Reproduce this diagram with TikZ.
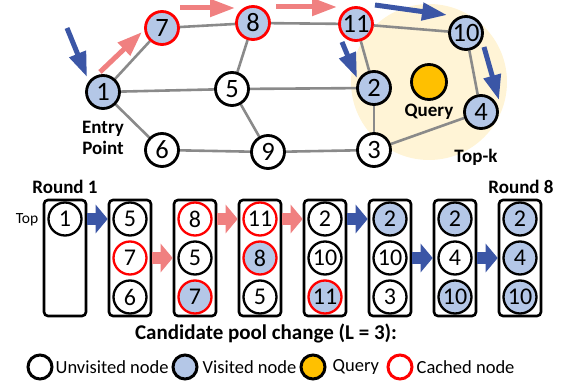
\documentclass[tikz,border=0pt]{standalone}
\usepackage{fontspec}
\setmainfont{Carlito}
\usetikzlibrary{arrows.meta}

\definecolor{visblue}{HTML}{B4C7E7}
\definecolor{cachered}{HTML}{FF0000}
\definecolor{qyellow}{HTML}{FFC000}
\definecolor{topkbg}{HTML}{FFF4D6}
\definecolor{edgegray}{HTML}{8A8A8A}
\definecolor{arrblue}{HTML}{3B56A6}
\definecolor{arrpink}{HTML}{F08080}

\pgfdeclarelayer{bg}
\pgfdeclarelayer{edges}
\pgfsetlayers{bg,edges,main}

\tikzset{
  gn/.style={circle, draw=black, fill=white, line width=2.8pt, minimum size=33pt,
    inner sep=0pt, font=\fontsize{26.5}{26.5}\selectfont},
  pn/.style={circle, draw=black, fill=white, line width=2.3pt, minimum size=33pt,
    inner sep=0pt, font=\fontsize{24}{24}\selectfont},
  vis/.style={fill=visblue},
  cache/.style={draw=cachered},
  edge/.style={draw=edgegray, line width=2.6pt},
  barrow/.style={draw=arrblue, line width=5pt, -{Triangle[length=25pt,width=17pt]}},
  parrow/.style={draw=arrpink, line width=5pt, -{Triangle[length=25pt,width=17pt]}},
  bblock/.style={draw=arrblue, line width=12pt, -{Triangle[length=12pt,width=28pt]}},
  pblock/.style={draw=arrpink, line width=12pt, -{Triangle[length=12pt,width=28pt]}},
  pbox/.style={draw=black, line width=2.6pt, rounded corners=4pt, minimum width=42pt,
    minimum height=116pt, inner sep=0pt},
  blabel/.style={font=\fontsize{19}{21}\selectfont\bfseries, align=center, inner sep=0pt},
  lgc/.style={circle, draw=black, fill=white, line width=3pt, minimum size=24pt, inner sep=0pt},
  lgtxt/.style={font=\fontsize{18.5}{18.5}\selectfont, inner sep=0pt, anchor=west},
}

\begin{document}
\begin{tikzpicture}[x=1pt, y=-1pt]
\useasboundingbox (0,0) rectangle (566,385);

% ---------- search graph ----------
\begin{pgfonlayer}{bg}
  \fill[topkbg] (429,82) circle (78pt);
\end{pgfonlayer}

\node[gn,vis] (n1) at (103,92) {1};
\node[gn,vis,cache] (n7) at (162,28) {7};
\node[gn,vis,cache] (n8) at (253,23) {8};
\node[gn,vis,cache] (n11) at (356,24) {11};
\node[gn,vis] (n10) at (466,33) {10};
\node[gn,vis] (n2) at (374,88) {2};
\node[gn,vis] (n4) at (481,112) {4};
\node[gn] (n5) at (232,89) {5};
\node[gn] (n6) at (162,150) {6};
\node[gn] (n9) at (268,152) {9};
\node[gn] (n3) at (374,150) {3};
\node[gn, fill=qyellow, minimum size=35pt] (q) at (429,82) {};

\begin{pgfonlayer}{edges}
  \foreach \a/\b in {n1/n7, n7/n8, n8/n11, n11/n10, n11/n2, n10/n4, n1/n5, n5/n2,
                     n8/n5, n5/n9, n1/n6, n6/n9, n9/n3, n2/n3, n3/n4}
    \draw[edge] (\a) -- (\b);
\end{pgfonlayer}

\node[blabel] (entry) at (103,138) {Entry\\Point};
\node[blabel] (qlbl) at (429,112) {Query};
\node[blabel] (topk) at (476,157) {Top-k};

% traversal arrows
\coordinate (s1) at (67,28);   \coordinate (e1) at (87,77);
\coordinate (s2) at (100,72);  \coordinate (e2) at (142,32);
\coordinate (s3) at (180,8);   \coordinate (e3) at (235,8);
\coordinate (s4) at (276,7);   \coordinate (e4) at (337,7);
\coordinate (s5) at (375,5);   \coordinate (e5) at (447,15);
\coordinate (s6) at (342,42);  \coordinate (e6) at (357,78);
\coordinate (s7) at (484,47);  \coordinate (e7) at (499,100);
\draw[barrow] (s1) -- (e1);
\draw[parrow] (s2) -- (e2);
\draw[parrow] (s3) -- (e3);
\draw[parrow] (s4) -- (e4);
\draw[barrow] (s5) -- (e5);
\draw[barrow] (s6) -- (e6);
\draw[barrow] (s7) -- (e7);

% ---------- candidate pool ----------
\coordinate (r1) at (0,219);
\coordinate (r2) at (0,258);
\coordinate (r3) at (0,297);

\node[pbox] (b1) at (65,258) {};
\node[pbox] (b2) at (130,258) {};
\node[pbox] (b3) at (195,258) {};
\node[pbox] (b4) at (260,258) {};
\node[pbox] (b5) at (325,258) {};
\node[pbox] (b6) at (390,258) {};
\node[pbox] (b7) at (455,258) {};
\node[pbox] (b8) at (520,258) {};

\node[pn] (c11) at (65,219) {1};

\node[pn] (c21) at (130,219) {5};
\node[pn,cache] (c22) at (130,258) {7};
\node[pn] (c23) at (130,297) {6};

\node[pn,cache] (c31) at (195,219) {8};
\node[pn] (c32) at (195,258) {5};
\node[pn,cache,vis] (c33) at (195,297) {7};

\node[pn,cache] (c41) at (260,219) {11};
\node[pn,cache,vis] (c42) at (260,258) {8};
\node[pn] (c43) at (260,297) {5};

\node[pn] (c51) at (325,219) {2};
\node[pn] (c52) at (325,258) {10};
\node[pn,cache,vis] (c53) at (325,297) {11};

\node[pn,vis] (c61) at (390,219) {2};
\node[pn] (c62) at (390,258) {10};
\node[pn] (c63) at (390,297) {3};

\node[pn,vis] (c71) at (455,219) {2};
\node[pn] (c72) at (455,258) {4};
\node[pn,vis] (c73) at (455,297) {10};

\node[pn,vis] (c81) at (520,219) {2};
\node[pn,vis] (c82) at (520,258) {4};
\node[pn,vis] (c83) at (520,297) {10};

\draw[bblock] (b1.east |- r1) -- (b2.west |- r1);
\draw[pblock] (b2.east |- r2) -- (b3.west |- r2);
\draw[pblock] (b3.east |- r1) -- (b4.west |- r1);
\draw[pblock] (b4.east |- r1) -- (b5.west |- r1);
\draw[bblock] (b5.east |- r1) -- (b6.west |- r1);
\draw[bblock] (b6.east |- r2) -- (b7.west |- r2);
\draw[bblock] (b7.east |- r2) -- (b8.west |- r2);

\node[blabel] (round1) at (65,187) {Round 1};
\node[blabel] (round8) at (521,187) {Round 8};
\node[font=\fontsize{15.5}{15.5}\selectfont, inner sep=0pt] (toplbl) at (27,220) {Top};

\node[font=\fontsize{21}{21}\selectfont\bfseries, inner sep=0pt] (title) at (266,333)
  {Candidate pool change (L = 3):};

% ---------- legend ----------
\node[lgc] (lg1) at (40,367) {};
\node[lgc, fill=visblue] (lg2) at (185,367) {};
\node[lgc, fill=qyellow] (lg3) at (313,367) {};
\node[lgc, draw=cachered] (lg4) at (400,367) {};
\node[lgtxt] (t1) at ([xshift=2pt]lg1.east) {Unvisited node};
\node[lgtxt] (t2) at ([xshift=4pt]lg2.east) {Visited node};
\node[lgtxt] (t3) at ([xshift=6pt]lg3.east) {Query};
\node[lgtxt] (t4) at ([xshift=3pt]lg4.east) {Cached node};
\end{tikzpicture}
\end{document}
